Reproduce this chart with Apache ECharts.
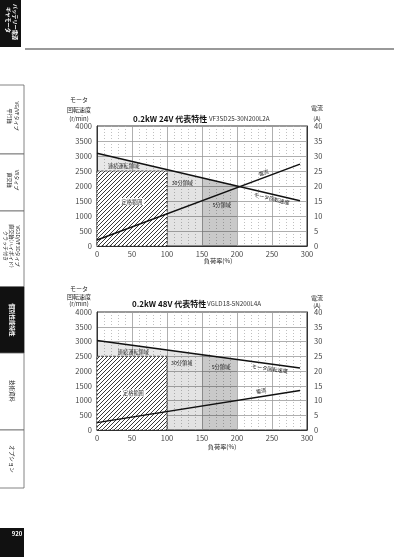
<!DOCTYPE html>
<html><head><meta charset="utf-8">
<script src="https://cdn.jsdelivr.net/npm/echarts@6/dist/echarts.min.js"></script>
<style>html,body{margin:0;padding:0;background:#fff}#c{width:394px;height:557px}</style>
</head><body><div id="c"></div>
<script>
// ---------- data ----------
const loadMin = 0, loadMax = 300, loadStep = 50;
const speedMin = 0, speedMax = 4000, speedStep = 500;
const currentMin = 0, currentMax = 40, currentStep = 5;

const chart1Title = '0.2kW 24V 代表特性';
const chart1Model = 'VF3SD25-30N200L2A';
const chart1Speed = [[0, 3090], [290, 1510]];     // r/min
const chart1Current = [[0, 2.0], [290, 27.3]];    // A

const chart2Title = '0.2kW 48V 代表特性';
const chart2Model = 'VGLD18-5N200L4A';
const chart2Speed = [[0, 3030], [290, 2100]];
const chart2Current = [[0, 2.5], [290, 13.4]];

const ratedLoad = 100, ratedSpeed = 2500;
const zone30 = [100, 150];
const zone5 = [150, 200];

const regionNames = {cont: '連続運転領域', rated: '定格範囲', z30: '30分領域', z5: '5分領域'};
const lineNames = {speed: 'モータ回転速度', current: '電流'};
const xName = '負荷率(%)';

// ---------- layout / style ----------
const FONT = '"Noto Sans CJK JP", "Noto Sans", sans-serif';
const grids = [
  {left: 97, top: 126, width: 210, height: 120},
  {left: 97, top: 312, width: 210, height: 118}
];
const chart1Labels = [
  {key: 'cont', x: 38, y: 2680},
  {key: 'z30', x: 122, y: 2100},
  {key: 'z5', x: 178, y: 1370},
  {key: 'rated', x: 50, y: 1480, box: true},
  {key: 'current', x: 235, line: 'current', off: -6},
  {key: 'speed', x: 248, line: 'speed', off: 5}
];
const chart2Labels = [
  {key: 'cont', x: 52, y: 2640},
  {key: 'z30', x: 121, y: 2260},
  {key: 'z5', x: 177, y: 2130},
  {key: 'rated', x: 52, y: 1250, box: true},
  {key: 'current', x: 233, line: 'current', off: -6},
  {key: 'speed', x: 246, line: 'speed', off: 5}
];

function valAt(line, x) {
  const [a, b] = line;
  return a[1] + (b[1] - a[1]) * (x - a[0]) / (b[0] - a[0]);
}

const hatch = (function () {
  const s = 4, c = document.createElement('canvas');
  c.width = s; c.height = s;
  const g = c.getContext('2d');
  g.fillStyle = '#fff'; g.fillRect(0, 0, s, s);
  g.strokeStyle = '#222'; g.lineWidth = 0.9;
  g.beginPath();
  g.moveTo(0, s); g.lineTo(s, 0);
  g.moveTo(-1, 1); g.lineTo(1, -1);
  g.moveTo(s - 1, s + 1); g.lineTo(s + 1, s - 1);
  g.stroke();
  return c;
})();

function zoneSeries(gi, speedLine) {
  return {
    type: 'custom', xAxisIndex: gi, yAxisIndex: gi * 2, data: [0], silent: true, z: 1,
    renderItem: function (params, api) {
      const sp = x => valAt(speedLine, x);
      const poly = (pts, style) => ({type: 'polygon', shape: {points: pts.map(p => api.coord(p))}, style});
      const p0 = api.coord([0, ratedSpeed]), p1 = api.coord([ratedLoad, 0]);
      return {type: 'group', children: [
        poly([[0, ratedSpeed], [ratedLoad, ratedSpeed], [ratedLoad, sp(ratedLoad)], [0, sp(0)]], {fill: 'rgba(0,0,0,0.09)'}),
        poly([[zone30[0], 0], [zone30[1], 0], [zone30[1], sp(zone30[1])], [zone30[0], sp(zone30[0])]], {fill: 'rgba(0,0,0,0.11)'}),
        poly([[zone5[0], 0], [zone5[1], 0], [zone5[1], sp(zone5[1])], [zone5[0], sp(zone5[0])]], {fill: 'rgba(0,0,0,0.21)'}),
        {type: 'rect', shape: {x: p0[0], y: p0[1], width: p1[0] - p0[0], height: p1[1] - p0[1]},
          style: {fill: {image: hatch, repeat: 'repeat'}, stroke: '#222', lineWidth: 0.8, lineDash: [2.5, 1.5]}}
      ]};
    }
  };
}

function labelSeries(gi, labels, speedLine, currentLine) {
  return {
    type: 'custom', xAxisIndex: gi, yAxisIndex: gi * 2, data: labels.map((l, i) => i), silent: true, z: 5,
    clip: false,
    renderItem: function (params, api) {
      const l = labels[params.dataIndex];
      const text = regionNames[l.key] || lineNames[l.key];
      let pos, rot = 0;
      if (l.line) {
        const ln = l.line === 'speed' ? speedLine : currentLine;
        const toPx = (x) => l.line === 'speed'
          ? api.coord([x, valAt(ln, x)])
          : chartInst.convertToPixel({xAxisIndex: gi, yAxisIndex: gi * 2 + 1}, [x, valAt(ln, x)]);
        const a = toPx(l.x - 10), b = toPx(l.x + 10), c = toPx(l.x);
        const ang = Math.atan2(b[1] - a[1], b[0] - a[0]);
        rot = -ang;
        pos = [c[0] + Math.sin(ang) * l.off, c[1] + Math.cos(ang) * l.off];
      } else {
        pos = api.coord([l.x, l.y]);
      }
      return {
        type: 'text', x: pos[0], y: pos[1], rotation: rot,
        style: {text, fontSize: 5.2, fontFamily: FONT, fill: '#222', align: 'center', verticalAlign: 'middle',
          backgroundColor: l.box ? '#fff' : null, padding: l.box ? [1, 2] : 0}
      };
    }
  };
}

const chartInst = echarts.init(document.getElementById('c'), null, {renderer: 'canvas'});

const plainNum = v => String(v);
function xAxisCfg(gi) {
  return {
    type: 'value', gridIndex: gi, min: loadMin, max: loadMax, interval: loadStep,
    axisLine: {show: true, lineStyle: {color: '#333', width: 1}},
    axisTick: {show: false},
    axisLabel: {fontSize: 7.5, color: '#444', margin: 4, fontFamily: FONT, formatter: plainNum},
    splitLine: {show: true, lineStyle: {color: '#9a9a9a', width: 0.8}},
    minorTick: {show: false, splitNumber: 5},
    minorSplitLine: {show: true, lineStyle: {color: '#b0b0b0', width: 0.8, type: [1, 2]}}
  };
}
function yLeft(gi) {
  return {
    type: 'value', gridIndex: gi, min: speedMin, max: speedMax, interval: speedStep, position: 'left',
    axisLine: {show: true, lineStyle: {color: '#333', width: 1}},
    axisTick: {show: false},
    axisLabel: {fontSize: 7.5, color: '#444', margin: 5, fontFamily: FONT, formatter: plainNum},
    splitLine: {show: true, lineStyle: {color: '#9a9a9a', width: 0.8}}
  };
}
function yRight(gi) {
  return {
    type: 'value', gridIndex: gi, min: currentMin, max: currentMax, interval: currentStep, position: 'right',
    axisLine: {show: true, lineStyle: {color: '#333', width: 1}},
    axisTick: {show: false},
    axisLabel: {fontSize: 7.5, color: '#444', margin: 7, fontFamily: FONT, formatter: plainNum},
    splitLine: {show: false}
  };
}
function lineSeries(gi, yi, data) {
  return {type: 'line', xAxisIndex: gi, yAxisIndex: yi, data, symbol: 'none', z: 4,
    lineStyle: {color: '#111', width: 1.5}, silent: true, animation: false};
}

function txt(x, y, text, opt) {
  return Object.assign({type: 'text', x, y, silent: true,
    style: Object.assign({text, fontFamily: FONT, fill: '#222', fontSize: 6.5, align: 'center', verticalAlign: 'middle'}, opt || {})});
}
function vtxt(x, y, text, opt) {
  const t = txt(x, y, text, opt);
  t.rotation = -Math.PI / 2;
  return t;
}

const graphics = [
  {type: 'rect', shape: {x: 0, y: 0, width: 21, height: 47}, style: {fill: '#111'}},
  vtxt(15, 22, 'バッテリー電源', {fill: '#fff', fontSize: 5.2, fontWeight: 'bold'}),
  vtxt(8, 20, 'ギヤモータ', {fill: '#fff', fontSize: 5.2, fontWeight: 'bold'}),
  {type: 'line', shape: {x1: 25, y1: 49, x2: 394, y2: 49}, style: {stroke: '#777', lineWidth: 1.4}},
  {type: 'rect', shape: {x: -2, y: 85, width: 26, height: 69}, style: {fill: '#fff', stroke: '#666', lineWidth: 0.8}},
  vtxt(17, 116, 'VG/VFタイプ', {fontSize: 5}),
  vtxt(10, 116, '平行軸', {fontSize: 5}),
  {type: 'rect', shape: {x: -2, y: 154, width: 26, height: 57}, style: {fill: '#fff', stroke: '#666', lineWidth: 0.8}},
  vtxt(17, 180, 'VXタイプ', {fontSize: 5}),
  vtxt(10, 180, '直交軸', {fontSize: 5}),
  {type: 'rect', shape: {x: -2, y: 211, width: 26, height: 76}, style: {fill: '#fff', stroke: '#666', lineWidth: 0.8}},
  vtxt(18, 246, 'VG3D/VF3Dタイプ', {fontSize: 5}),
  vtxt(12, 246, '直交軸(ハイポイド)', {fontSize: 5}),
  vtxt(6, 246, 'クラッチ付き', {fontSize: 5}),
  {type: 'rect', shape: {x: -2, y: 287, width: 26, height: 66}, style: {fill: '#111', stroke: '#111', lineWidth: 0.8}},
  vtxt(12, 320, '個別性能特性', {fontSize: 5.5, fill: '#fff', fontWeight: 'bold'}),
  {type: 'rect', shape: {x: -2, y: 353, width: 26, height: 77}, style: {fill: '#fff', stroke: '#666', lineWidth: 0.8}},
  vtxt(12, 391, '技術資料', {fontSize: 5.5}),
  {type: 'rect', shape: {x: -2, y: 430, width: 26, height: 58}, style: {fill: '#fff', stroke: '#666', lineWidth: 0.8}},
  vtxt(12, 459, 'オプション', {fontSize: 5.5}),
  {type: 'rect', shape: {x: 0, y: 528, width: 24, height: 29}, style: {fill: '#111'}},
  txt(17, 534, '920', {fill: '#fff', fontSize: 6, fontWeight: 'bold'}),

  txt(133, 119, chart1Title, {fontSize: 8, fontWeight: 'bold', align: 'left', fill: '#111'}),
  txt(209, 119, chart1Model, {fontSize: 6.3, align: 'left', fill: '#333'}),
  txt(79, 100, 'モータ', {fontSize: 6}),
  txt(79, 110, '回転速度', {fontSize: 6}),
  txt(79, 119, '(r/min)', {fontSize: 6}),
  txt(317, 108, '電流', {fontSize: 6}),
  txt(317, 119, '(A)', {fontSize: 5.8}),
  txt(218, 261, xName, {fontSize: 6.2}),

  txt(132, 304, chart2Title, {fontSize: 8, fontWeight: 'bold', align: 'left', fill: '#111'}),
  txt(207, 304, chart2Model, {fontSize: 6.3, align: 'left', fill: '#333'}),
  txt(79, 289, 'モータ', {fontSize: 6}),
  txt(79, 297, '回転速度', {fontSize: 6}),
  txt(79, 304, '(r/min)', {fontSize: 6}),
  txt(317, 298, '電流', {fontSize: 6}),
  txt(317, 306, '(A)', {fontSize: 5.8}),
  txt(222, 447, xName, {fontSize: 6.2})
];

const baseSeries = [
  zoneSeries(0, chart1Speed),
  lineSeries(0, 0, chart1Speed),
  lineSeries(0, 1, chart1Current),
  zoneSeries(1, chart2Speed),
  lineSeries(1, 2, chart2Speed),
  lineSeries(1, 3, chart2Current)
];
chartInst.setOption({
  animation: false,
  textStyle: {fontFamily: FONT},
  grid: grids.map(g => Object.assign({show: true, borderColor: '#333', borderWidth: 1, backgroundColor: 'transparent'}, g)),
  xAxis: [xAxisCfg(0), xAxisCfg(1)],
  yAxis: [yLeft(0), yRight(0), yLeft(1), yRight(1)],
  series: baseSeries,
  graphic: graphics
});
chartInst.setOption({series: baseSeries.concat([
  labelSeries(0, chart1Labels, chart1Speed, chart1Current),
  labelSeries(1, chart2Labels, chart2Speed, chart2Current)
])});
</script></body></html>
